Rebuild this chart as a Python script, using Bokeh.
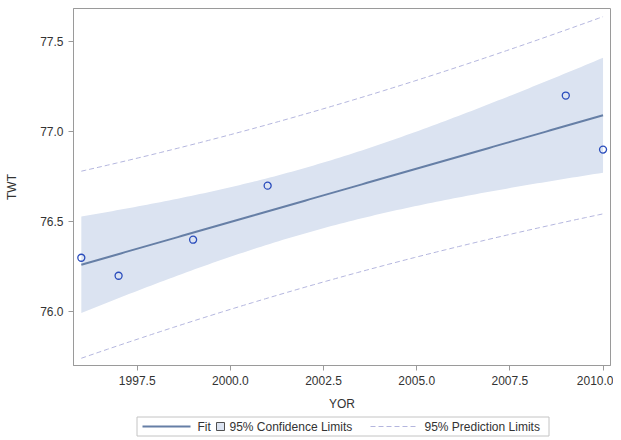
import numpy as np
from bokeh.plotting import figure
from bokeh.layouts import column
from bokeh.core.properties import value
from bokeh.models import FixedTicker, NumeralTickFormatter, Range1d
from bokeh.embed import file_html
from bokeh.resources import INLINE

# Data
yor = [1996, 1997, 1999, 2001, 2009, 2010]
twt = [76.3, 76.2, 76.4, 76.7, 77.2, 76.9]
x_ticks = [1997.5, 2000.0, 2002.5, 2005.0, 2007.5, 2010.0]
y_ticks = [76.0, 76.5, 77.0, 77.5]
legend_labels = ["Fit", "95% Confidence Limits", "95% Prediction Limits"]
T_975_DF4 = 2.776  # t quantile for 95% limits, n-2 = 4 df

# Regression fit with confidence / prediction limits
x = np.array(yor, dtype=float)
y = np.array(twt, dtype=float)
n = len(x)
xm, ym = x.mean(), y.mean()
sxx = ((x - xm) ** 2).sum()
b1 = ((x - xm) * (y - ym)).sum() / sxx
b0 = ym - b1 * xm
res = y - (b0 + b1 * x)
s = np.sqrt((res ** 2).sum() / (n - 2))
xs = np.linspace(x.min(), x.max(), 120)
fit = b0 + b1 * xs
se_m = s * np.sqrt(1.0 / n + (xs - xm) ** 2 / sxx)
se_p = s * np.sqrt(1.0 + 1.0 / n + (xs - xm) ** 2 / sxx)
cl_lo, cl_hi = fit - T_975_DF4 * se_m, fit + T_975_DF4 * se_m
pl_lo, pl_hi = fit - T_975_DF4 * se_p, fit + T_975_DF4 * se_p

FONT = "Liberation Sans"
AXIS_COL = "#9a9a9a"
TEXT_COL = "#333333"
BAND = "#dbe3f1"
FIT_COL = "#667fa6"
MARK_COL = "#2a4cbc"
PRED_COL = "#b4b6de"
DASH = "5 3"

BL, BR = 73, 3  # left / right borders shared by both figures
FW = 537

p = figure(frame_width=FW, frame_height=357, output_backend="svg", toolbar_location=None,
           x_range=Range1d(1995.79, 2010.2), y_range=Range1d(75.702, 77.683),
           min_border_left=BL, min_border_right=BR, min_border_top=8, min_border_bottom=50)

p.xgrid.visible = False
p.ygrid.visible = False
p.outline_line_color = AXIS_COL
p.outline_line_width = 1

p.varea(x=xs, y1=cl_lo, y2=cl_hi, fill_color=BAND, fill_alpha=1.0)
p.line(xs, fit, line_color=FIT_COL, line_width=2)
p.line(xs, pl_lo, line_color=PRED_COL, line_width=1, line_dash=DASH)
p.line(xs, pl_hi, line_color=PRED_COL, line_width=1, line_dash=DASH)
p.scatter(yor, twt, marker="circle", size=7, fill_color=None, line_color=MARK_COL, line_width=1.3)

for ax in (p.xaxis[0], p.yaxis[0]):
    ax.axis_line_color = AXIS_COL
    ax.major_tick_line_color = AXIS_COL
    ax.minor_tick_line_color = None
    ax.major_tick_out = 5
    ax.major_tick_in = 0
    ax.major_label_text_font = FONT
    ax.major_label_text_font_size = "12px"
    ax.major_label_text_color = TEXT_COL
    ax.axis_label_text_font = FONT
    ax.axis_label_text_font_size = "12px"
    ax.axis_label_text_font_style = "normal"
    ax.axis_label_text_color = TEXT_COL
    ax.formatter = NumeralTickFormatter(format="0.0")

p.xaxis.ticker = FixedTicker(ticks=x_ticks)
p.yaxis.ticker = FixedTicker(ticks=y_ticks)
p.xaxis.axis_label = "YOR"
p.yaxis.axis_label = "TWT"
p.xaxis.major_label_standoff = 5
p.xaxis.axis_label_standoff = 9
p.yaxis.major_label_standoff = 5
p.yaxis.axis_label_standoff = 18

# ---- legend strip (pixel-unit figure placed below the chart; x in page pixels) ----
LH = 25
lg = figure(frame_width=FW, frame_height=LH, output_backend="svg", toolbar_location=None,
            x_range=Range1d(BL, BL + FW), y_range=Range1d(LH, 0),
            x_axis_type=None, y_axis_type=None,
            min_border_left=BL, min_border_right=BR, min_border_top=0, min_border_bottom=0)
lg.xgrid.visible = False
lg.ygrid.visible = False
lg.outline_line_color = None

box_l, box_r, box_t, box_b = 136.5, 548.5, 1.5, 20.5
cy = (box_t + box_b) / 2
lg.quad(left=[box_l], right=[box_r], top=[box_t], bottom=[box_b],
        fill_color="white", line_color="#c4c4c4", line_width=1)
lg.segment(x0=[142], y0=[cy], x1=[190], y1=[cy], line_color=FIT_COL, line_width=2)
lg.scatter(x=[220], y=[cy], marker="square", size=8, fill_color=BAND,
           line_color="#505050", line_width=1)
lg.segment(x0=[370], y0=[cy], x1=[416], y1=[cy], line_color=PRED_COL, line_width=1,
           line_dash=DASH)
lg.text(x=[197, 229, 424], y=[cy, cy, cy], text=legend_labels,
        text_font=value(FONT), text_font_size="12px", text_color=TEXT_COL,
        text_baseline="middle", text_align="left")

open("out.html", "w").write(file_html(column(p, lg), INLINE))
